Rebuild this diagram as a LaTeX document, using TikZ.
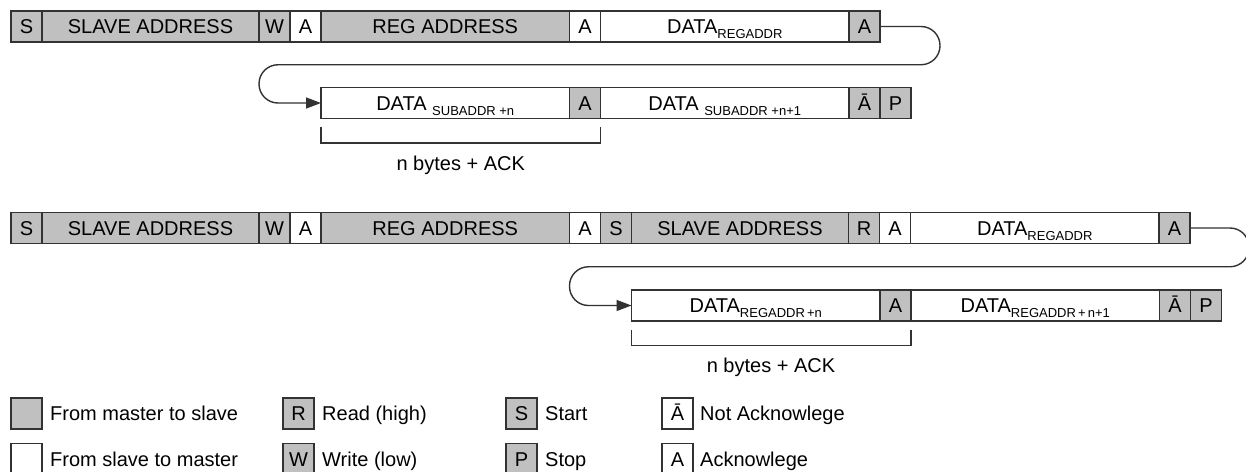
\documentclass[tikz,border=0pt]{standalone}
\usepackage{fontspec}
\setmainfont{Liberation Sans}
\usetikzlibrary{positioning,arrows.meta,calc}
\definecolor{cellgray}{RGB}{192,192,192}
\definecolor{linegray}{RGB}{50,50,50}
\newcommand{\subtxt}[1]{\raisebox{-5pt}{\fontsize{13}{13}\selectfont #1}}
\begin{document}
\begin{tikzpicture}[x=1pt,y=-1pt,
  every node/.style={font=\fontsize{20}{24}\selectfont},
  cell/.style={draw=linegray, line width=1.6pt, minimum height=31pt, inner sep=0pt, outer sep=0pt, text height=14.3pt, text depth=0pt, anchor=west},
  cg/.style={cell, fill=cellgray},
  cw/.style={cell, fill=white},
  ws/.style={minimum width=31pt},
  wl/.style={minimum width=217pt},
  wb/.style={minimum width=248.5pt},
  conn/.style={draw=linegray, line width=1.4pt, rounded corners=19pt},
  arrowend/.style={-{Triangle[length=15pt,width=11pt]}},
  bracket/.style={draw=linegray, line width=1.3pt},
  lbl/.style={inner sep=0pt, anchor=west, text height=14.3pt, text depth=0pt},
  note/.style={inner sep=0pt, text height=14.3pt, text depth=0pt},
]
\useasboundingbox (0,0) rectangle (1246,471);
\fill[white] (0,0) rectangle (1246,471);
\clip (0,0) rectangle (1246,471);

% ---------- Row 1 (write) ----------
\node[cg, ws] (s1) at (11,26.5) {S};
\node[cg, wl, right=0pt of s1] (sa1) {SLAVE ADDRESS};
\node[cg, ws, right=0pt of sa1] (w1) {W};
\node[cw, ws, right=0pt of w1] (a11) {A};
\node[cg, wb, right=0pt of a11] (reg1) {REG ADDRESS};
\node[cw, ws, right=0pt of reg1] (a12) {A};
\node[cw, wb, right=0pt of a12] (d11) {DATA\subtxt{REGADDR}};
\node[cg, ws, right=0pt of d11] (a13) {A};

% ---------- Row 1b ----------
\node[cw, wb] (d12) at (321,103) {DATA\ \subtxt{SUBADDR +n}};
\node[cg, ws, right=0pt of d12] (a14) {A};
\node[cw, wb, right=0pt of a14] (d13) {DATA\ \subtxt{SUBADDR +n+1}};
\node[cg, ws, right=0pt of d13] (na1) {Ā};
\node[cg, ws, right=0pt of na1] (p1) {P};

\coordinate (r1a) at (940,26.5);
\coordinate (r1b) at (940,64.75);
\coordinate (r1c) at (259,64.75);
\coordinate (r1d) at (259,103);
\draw[conn, arrowend] (a13.east) -- (r1a) -- (r1b) -- (r1c) -- (r1d) -- (d12.west);

\coordinate (b1a) at ($(d12.south west)+(0,8.5)$);
\coordinate (b1d) at ($(a14.south east)+(0,8.5)$);
\draw[bracket] (b1a) -- ++(0,16) -| (b1d);
\node[note] (nb1) at (460.75,163) {n bytes + ACK};

% ---------- Row 2 (read) ----------
\node[cg, ws] (s2) at (11,228) {S};
\node[cg, wl, right=0pt of s2] (sa2) {SLAVE ADDRESS};
\node[cg, ws, right=0pt of sa2] (w2) {W};
\node[cw, ws, right=0pt of w2] (a21) {A};
\node[cg, wb, right=0pt of a21] (reg2) {REG ADDRESS};
\node[cw, ws, right=0pt of reg2] (a22) {A};
\node[cg, ws, right=0pt of a22] (s22) {S};
\node[cg, wl, right=0pt of s22] (sa22) {SLAVE ADDRESS};
\node[cg, ws, right=0pt of sa22] (r2) {R};
\node[cw, ws, right=0pt of r2] (a23) {A};
\node[cw, wb, right=0pt of a23] (d21) {DATA\subtxt{REGADDR}};
\node[cg, ws, right=0pt of d21] (a24) {A};

% ---------- Row 2b ----------
\node[cw, wb] (d22) at (631.5,305.5) {DATA\subtxt{REGADDR\,+n}};
\node[cg, ws, right=0pt of d22] (a25) {A};
\node[cw, wb, right=0pt of a25] (d23) {DATA\subtxt{REGADDR\,+\,n+1}};
\node[cg, ws, right=0pt of d23] (na2) {Ā};
\node[cg, ws, right=0pt of na2] (p2) {P};

\coordinate (r2a) at (1249,228);
\coordinate (r2b) at (1249,266.75);
\coordinate (r2c) at (569.5,266.75);
\coordinate (r2d) at (569.5,305.5);
\draw[conn, arrowend] (a24.east) -- (r2a) -- (r2b) -- (r2c) -- (r2d) -- (d22.west);

\coordinate (b2a) at ($(d22.south west)+(0,8.5)$);
\coordinate (b2d) at ($(a25.south east)+(0,8.5)$);
\draw[bracket] (b2a) -- ++(0,16) -| (b2d);
\node[note] (nb2) at (771,365.5) {n bytes + ACK};

% ---------- Legend ----------
\node[cg, ws] (lg1) at (11,413.5) {};
\node[lbl] (lg1t) at (50,413.5) {From master to slave};
\node[cg, ws] (lgr) at (283,413.5) {R};
\node[lbl] (lgrt) at (322,413.5) {Read (high)};
\node[cg, ws] (lgs) at (506,413.5) {S};
\node[lbl] (lgst) at (545,413.5) {Start};
\node[cw, ws] (lgn) at (662,413.5) {Ā};
\node[lbl] (lgnt) at (700,413.5) {Not Acknowlege};

\node[cw, ws] (lg2) at (11,459) {};
\node[lbl] (lg2t) at (50,459) {From slave to master};
\node[cg, ws] (lgw) at (283,459) {W};
\node[lbl] (lgwt) at (322,459) {Write (low)};
\node[cg, ws] (lgp) at (506,459) {P};
\node[lbl] (lgpt) at (545,459) {Stop};
\node[cw, ws] (lga) at (662,459) {A};
\node[lbl] (lgat) at (700,459) {Acknowlege};
\end{tikzpicture}
\end{document}
